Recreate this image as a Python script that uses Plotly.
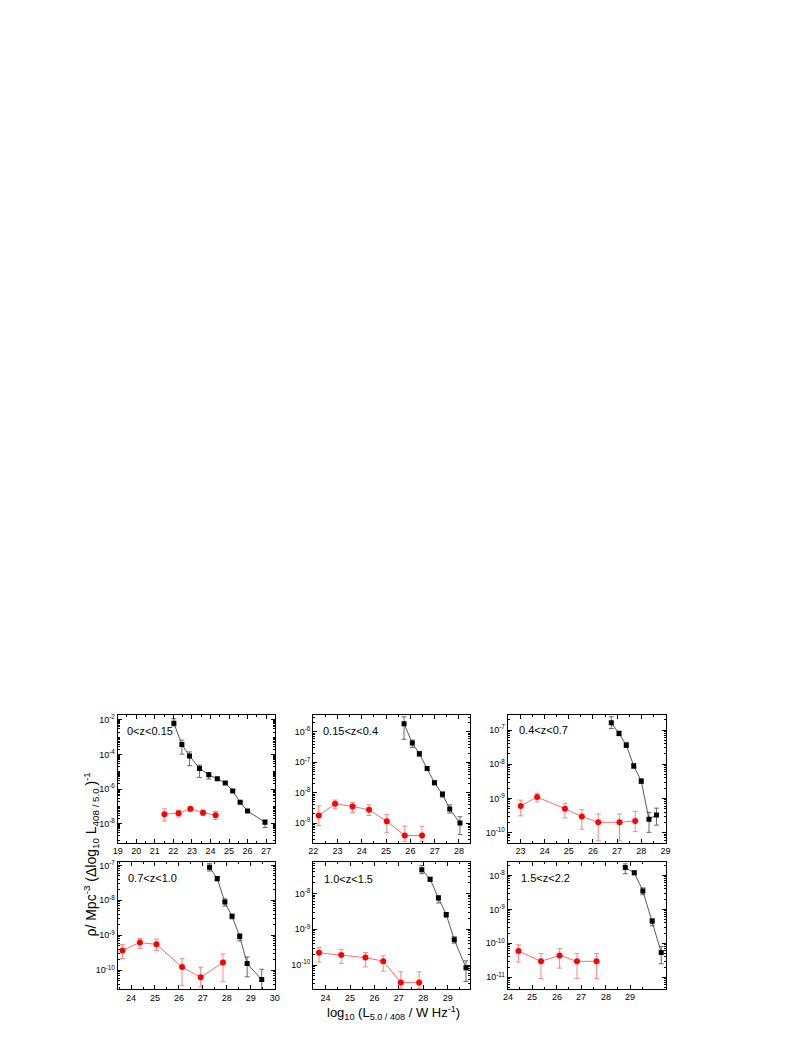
import plotly.graph_objects as go

# ---------------- data ----------------
panel_labels = ["0<z<0.15", "0.15<z<0.4", "0.4<z<0.7", "0.7<z<1.0", "1.0<z<1.5", "1.5<z<2.2"]

p1_bk_x = [22.03, 22.46, 22.87, 23.41, 23.91, 24.37, 24.80, 25.20, 25.60, 26.00, 26.94]
p1_bk_y = [6.5e-3, 3.8e-4, 8.3e-5, 1.55e-5, 6.8e-6, 4.0e-6, 2.24e-6, 7.8e-7, 1.7e-7, 5.4e-8, 1.2e-8]
p1_bk_hi = [1.17e-2, 6.8e-4, 1.41e-4, 2.45e-5, 9.1e-6, 4.5e-6, 2.5e-6, 8.7e-7, 1.9e-7, 6.0e-8, 1.62e-8]
p1_bk_lo = [4.5e-3, 1.05e-4, 2.24e-5, 4.7e-6, 3.8e-6, 3.55e-6, 2.0e-6, 6.9e-7, 1.5e-7, 4.8e-8, 5.9e-9]
p1_rd_x = [21.52, 22.28, 22.92, 23.60, 24.28]
p1_rd_y = [3.5e-8, 4.0e-8, 7.1e-8, 4.3e-8, 3.0e-8]
p1_rd_hi = [7.1e-8, 5.9e-8, 8.5e-8, 6.2e-8, 5.0e-8]
p1_rd_lo = [1.41e-8, 2.4e-8, 5.0e-8, 2.9e-8, 1.7e-8]

p2_bk_x = [25.74, 26.08, 26.37, 26.69, 26.99, 27.32, 27.62, 28.04]
p2_bk_y = [1.86e-6, 4.3e-7, 1.9e-7, 6.3e-8, 2.14e-8, 8.9e-9, 2.9e-9, 1.0e-9]
p2_bk_hi = [3.16e-6, 5.4e-7, 2.24e-7, 7.2e-8, 2.5e-8, 1.07e-8, 4.0e-9, 1.62e-9]
p2_bk_lo = [5.75e-7, 3.1e-7, 1.58e-7, 5.4e-8, 1.82e-8, 7.1e-9, 2.14e-9, 4.2e-10]
p2_rd_x = [22.23, 22.90, 23.62, 24.30, 25.03, 25.77, 26.48]
p2_rd_y = [1.78e-9, 4.3e-9, 3.55e-9, 2.75e-9, 1.15e-9, 3.9e-10, 3.9e-10]
p2_rd_hi = [3.7e-9, 5.75e-9, 4.8e-9, 4.0e-9, 1.9e-9, 7.9e-10, 7.9e-10]
p2_rd_lo = [8.3e-10, 2.95e-9, 2.24e-9, 1.78e-9, 4.8e-10, 2.5e-10, 2.5e-10]

p3_bk_x = [26.76, 27.08, 27.38, 27.69, 28.00, 28.32, 28.63]
p3_bk_y = [1.62e-7, 7.9e-8, 3.6e-8, 8.9e-9, 3.2e-9, 2.45e-10, 3.3e-10]
p3_bk_hi = [2.45e-7, 9.3e-8, 4.3e-8, 1.05e-8, 3.8e-9, 3.9e-10, 5.2e-10]
p3_bk_lo = [1.1e-7, 6.8e-8, 3.16e-8, 7.6e-9, 2.8e-9, 1.02e-10, 1.66e-10]
p3_rd_x = [23.01, 23.69, 24.84, 25.54, 26.22, 27.10, 27.75]
p3_rd_y = [6.0e-10, 1.1e-9, 5.0e-10, 2.95e-10, 2.0e-10, 2.0e-10, 2.2e-10]
p3_rd_hi = [8.9e-10, 1.41e-9, 7.2e-10, 4.7e-10, 3.5e-10, 3.5e-10, 4.2e-10]
p3_rd_lo = [3.1e-10, 7.9e-10, 2.7e-10, 1.26e-10, 5.75e-11, 5.75e-11, 1.07e-10]

p4_bk_x = [27.28, 27.60, 27.92, 28.22, 28.54, 28.85, 29.46]
p4_bk_y = [8.9e-8, 4.2e-8, 8.9e-9, 3.5e-9, 9.3e-10, 1.55e-10, 5.4e-11]
p4_bk_hi = [1.12e-7, 4.7e-8, 1.1e-8, 4.0e-9, 1.12e-9, 2.4e-10, 1.07e-10]
p4_bk_lo = [6.9e-8, 3.55e-8, 6.8e-9, 2.95e-9, 6.9e-10, 6.5e-11, 2.8e-11]
p4_rd_x = [23.64, 24.37, 25.06, 26.13, 26.91, 27.84]
p4_rd_y = [3.7e-10, 6.2e-10, 5.5e-10, 1.23e-10, 6.3e-11, 1.66e-10]
p4_rd_hi = [5.4e-10, 8.1e-10, 7.8e-10, 2.14e-10, 1.23e-10, 2.9e-10]
p4_rd_lo = [2.14e-10, 4.2e-10, 3.7e-10, 3.7e-11, 3.3e-11, 4.7e-11]

p5_bk_x = [27.94, 28.28, 28.62, 28.94, 29.27, 29.75]
p5_bk_y = [4.6e-8, 2.5e-8, 7.4e-9, 2.6e-9, 5.1e-10, 8.5e-11]
p5_bk_hi = [6.0e-8, 2.8e-8, 8.7e-9, 2.95e-9, 6.2e-10, 1.32e-10]
p5_bk_lo = [3.55e-8, 2.2e-8, 5.4e-9, 2.14e-9, 4.1e-10, 3.5e-11]
p5_rd_x = [23.73, 24.64, 25.63, 26.36, 27.08, 27.83]
p5_rd_y = [2.2e-10, 1.9e-10, 1.62e-10, 1.29e-10, 3.3e-11, 3.3e-11]
p5_rd_hi = [3.1e-10, 2.75e-10, 2.24e-10, 1.82e-10, 6.5e-11, 6.5e-11]
p5_rd_lo = [1.23e-10, 1.12e-10, 8.9e-11, 6.8e-11, 2.24e-11, 2.24e-11]

p6_bk_x = [28.80, 29.17, 29.52, 29.90, 30.27]
p6_bk_y = [1.7e-8, 1.2e-8, 3.5e-9, 4.5e-10, 5.4e-11]
p6_bk_hi = [2.2e-8, 1.35e-8, 4.3e-9, 5.4e-10, 8.1e-11]
p6_bk_lo = [1.12e-8, 1.05e-8, 2.7e-9, 3.3e-10, 2.5e-11]
p6_rd_x = [24.44, 25.36, 26.12, 26.83, 27.63]
p6_rd_y = [5.9e-11, 2.95e-11, 4.4e-11, 2.95e-11, 2.95e-11]
p6_rd_hi = [9.1e-11, 5.0e-11, 6.9e-11, 5.0e-11, 5.0e-11]
p6_rd_lo = [2.8e-11, 9.1e-12, 1.86e-11, 9.1e-12, 9.1e-12]

# tick labels
x_ticks = [
    [19, 20, 21, 22, 23, 24, 25, 26, 27],
    [22, 23, 24, 25, 26, 27, 28],
    [23, 24, 25, 26, 27, 28, 29],
    [24, 25, 26, 27, 28, 29, 30],
    [24, 25, 26, 27, 28, 29],
    [24, 25, 26, 27, 28, 29],
]
y_tick_exp = [
    [-2, -4, -6, -8],
    [-6, -7, -8, -9],
    [-7, -8, -9, -10],
    [-7, -8, -9, -10],
    [-8, -9, -10],
    [-8, -9, -10, -11],
]

x_title = "log<sub>10</sub> (L<sub>5.0 / 408</sub> / W Hz<sup>-1</sup>)"
y_title = "\u03c1/ Mpc<sup>-3</sup> (\u0394log<sub>10</sub> L<sub>408 / 5.0 </sub>)<sup>-1</sup>"

# ---------------- geometry (pixels in the 808x1045 window) ----------------
W, H = 792, 1029
OFF = 8  # default body margin of the page


def fx(px):
    return (px - OFF) / W


def fy(py):
    return 1 - (py - OFF) / H


cols = [(114, 273), (312, 471), (509, 669)]
rows = [(714, 842), (861, 989)]
x_ranges = [[19, 27.46], [22, 28.46], [22.47, 29.01], [23.44, 30.0], [23.49, 29.92], [24, 30.45]]
y_ranges = [[-9.1, -1.71], [-9.64, -5.44], [-10.29, -6.56], [-10.54, -6.89], [-10.67, -7.11], [-11.35, -7.59]]
label_pos = [(121, 730), (320, 730), (518, 729), (122, 878), (321, 879), (520, 878)]

series = [
    (p1_bk_x, p1_bk_y, p1_bk_hi, p1_bk_lo, p1_rd_x, p1_rd_y, p1_rd_hi, p1_rd_lo),
    (p2_bk_x, p2_bk_y, p2_bk_hi, p2_bk_lo, p2_rd_x, p2_rd_y, p2_rd_hi, p2_rd_lo),
    (p3_bk_x, p3_bk_y, p3_bk_hi, p3_bk_lo, p3_rd_x, p3_rd_y, p3_rd_hi, p3_rd_lo),
    (p4_bk_x, p4_bk_y, p4_bk_hi, p4_bk_lo, p4_rd_x, p4_rd_y, p4_rd_hi, p4_rd_lo),
    (p5_bk_x, p5_bk_y, p5_bk_hi, p5_bk_lo, p5_rd_x, p5_rd_y, p5_rd_hi, p5_rd_lo),
    (p6_bk_x, p6_bk_y, p6_bk_hi, p6_bk_lo, p6_rd_x, p6_rd_y, p6_rd_hi, p6_rd_lo),
]

FONT = "Liberation Sans, Arial, sans-serif"
fig = go.Figure()
layout = dict(
    width=W, height=H, autosize=False,
    margin=dict(l=0, r=0, t=0, b=0),
    paper_bgcolor="white", plot_bgcolor="white",
    showlegend=False,
    font=dict(family=FONT, size=9, color="black"),
)

annotations = []
for i, (bx, by, bhi, blo, rx, ry, rhi, rlo) in enumerate(series):
    n = i + 1
    xa = "x" if n == 1 else f"x{n}"
    ya = "y" if n == 1 else f"y{n}"
    fig.add_trace(go.Scatter(
        x=rx, y=ry, xaxis=xa, yaxis=ya, mode="lines+markers",
        line=dict(color="rgb(255,90,90)", width=0.9),
        marker=dict(symbol="circle", size=6, color="red"),
        error_y=dict(type="data", symmetric=False,
                     array=[h - v for h, v in zip(rhi, ry)],
                     arrayminus=[v - l for v, l in zip(ry, rlo)],
                     color="rgb(255,120,120)", thickness=0.9, width=2.5),
    ))
    fig.add_trace(go.Scatter(
        x=bx, y=by, xaxis=xa, yaxis=ya, mode="lines+markers",
        line=dict(color="rgb(70,70,70)", width=0.9),
        marker=dict(symbol="square", size=5, color="black"),
        error_y=dict(type="data", symmetric=False,
                     array=[h - v for h, v in zip(bhi, by)],
                     arrayminus=[v - l for v, l in zip(by, blo)],
                     color="rgb(90,90,90)", thickness=0.9, width=2.5),
    ))

    c = cols[i % 3]
    r = rows[i // 3]
    lo_e, hi_e = y_ranges[i]
    minor_vals = []
    for e in range(int(lo_e) - 1, int(hi_e) + 1):
        for k in range(1, 10):
            if k == 1 and e in y_tick_exp[i]:
                continue
            minor_vals.append(k * 10.0 ** e)
    xmin = [t + 0.5 for t in range(int(x_ranges[i][0]) - 1, int(x_ranges[i][1]) + 1)]
    layout[f"xaxis{'' if n == 1 else n}"] = dict(
        domain=[fx(c[0]), fx(c[1])], anchor=ya, range=x_ranges[i],
        showline=True, linecolor="black", linewidth=1, mirror="ticks",
        ticks="inside", ticklen=4, tickwidth=1, tickcolor="black",
        tickmode="array", tickvals=x_ticks[i], ticktext=[str(t) for t in x_ticks[i]],
        tickangle=0, showticklabels=(n != 6),
        minor=dict(tickmode="array", tickvals=xmin, ticks="inside", ticklen=2,
                   tickcolor="black", showgrid=False),
        showgrid=False, zeroline=False,
        tickfont=dict(family=FONT, size=9, color="black"),
    )
    layout[f"yaxis{'' if n == 1 else n}"] = dict(
        domain=[fy(r[1]), fy(r[0])], anchor=xa, type="log", range=y_ranges[i],
        showline=True, linecolor="black", linewidth=1, mirror="ticks",
        ticks="inside", ticklen=4, tickwidth=1, tickcolor="black",
        tickmode="array", tickvals=[10.0 ** e for e in y_tick_exp[i]],
        ticktext=[f"10<sup>{e}</sup>" for e in y_tick_exp[i]],
        minor=dict(tickmode="array", tickvals=minor_vals, ticks="inside", ticklen=2,
                   tickcolor="black", showgrid=False),
        showgrid=False, zeroline=False,
        tickfont=dict(family=FONT, size=9, color="black"),
    )
    if n == 6:
        # tick labels of the last panel, placed on its own x scale
        for t in x_ticks[i]:
            annotations.append(dict(
                text=str(t), x=t, xref="x6", y=fy(997), yref="paper",
                xanchor="center", yanchor="middle", showarrow=False,
                font=dict(family=FONT, size=9, color="black"),
            ))
    lx, ly = label_pos[i]
    annotations.append(dict(
        text=panel_labels[i], x=fx(lx), y=fy(ly), xref="paper", yref="paper",
        xanchor="left", yanchor="middle", showarrow=False,
        font=dict(family=FONT, size=11, color="black"),
    ))

annotations.append(dict(
    text=x_title, x=fx(393), y=fy(1013), xref="paper", yref="paper",
    xanchor="center", yanchor="middle", showarrow=False,
    font=dict(family=FONT, size=13, color="black"),
))
annotations.append(dict(
    text=y_title, x=fx(87), y=fy(854), xref="paper", yref="paper",
    xanchor="center", yanchor="middle", showarrow=False, textangle=-90,
    font=dict(family=FONT, size=14, color="black"),
))
layout["annotations"] = annotations
fig.update_layout(**layout)
fig.write_html("out.html")
